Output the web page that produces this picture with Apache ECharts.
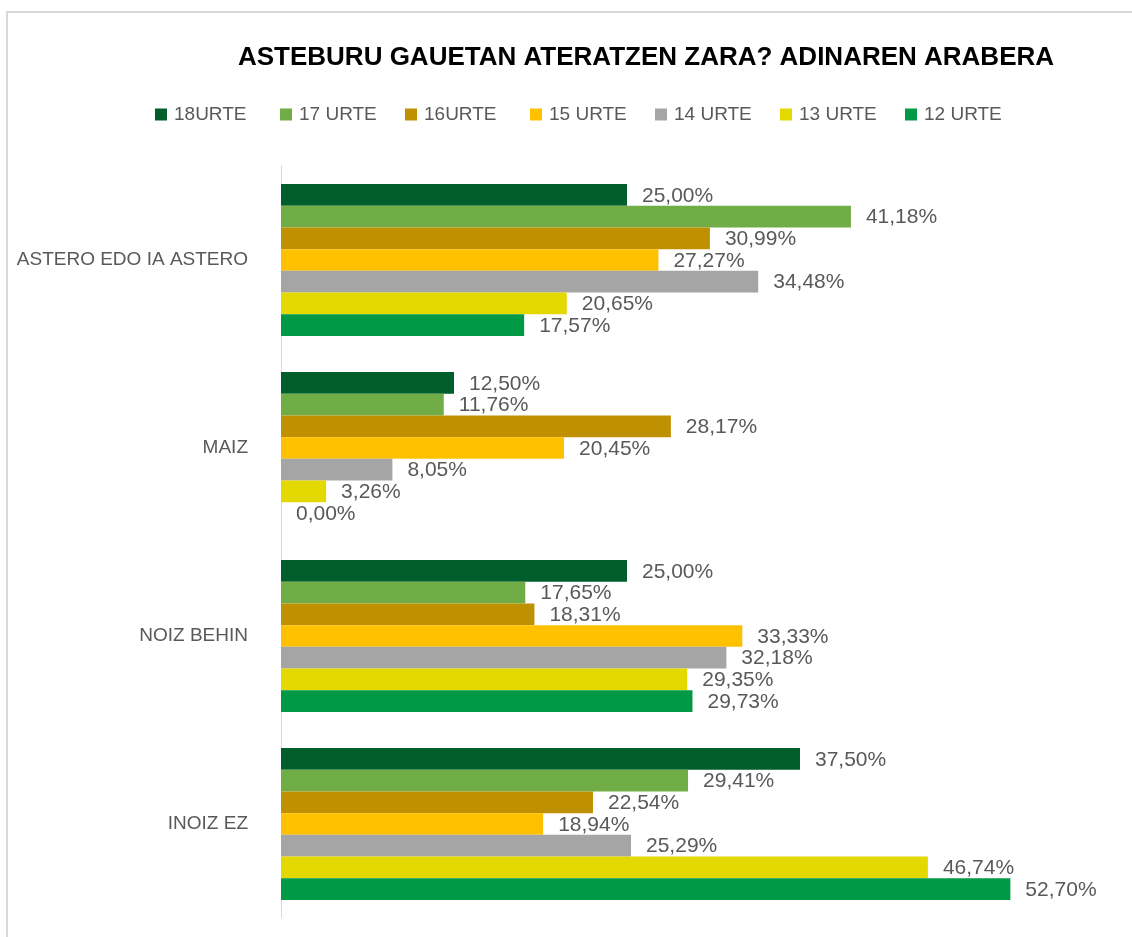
<!DOCTYPE html>
<html>
<head>
<meta charset="utf-8">
<script src="https://cdn.jsdelivr.net/npm/echarts@6/dist/echarts.min.js"></script>
<style>
html,body{margin:0;padding:0;background:#fff;}
#chart{width:1132px;height:937px;}
</style>
</head>
<body>
<div id="chart"></div>
<script>
const titleText = 'ASTEBURU GAUETAN ATERATZEN ZARA? ADINAREN ARABERA';
const categories = ['ASTERO EDO IA ASTERO', 'MAIZ', 'NOIZ BEHIN', 'INOIZ EZ'];
const seriesNames = ['18URTE', '17 URTE', '16URTE', '15 URTE', '14 URTE', '13 URTE', '12 URTE'];
const urte18 = [25.00, 12.50, 25.00, 37.50];
const urte17 = [41.18, 11.76, 17.65, 29.41];
const urte16 = [30.99, 28.17, 18.31, 22.54];
const urte15 = [27.27, 20.45, 33.33, 18.94];
const urte14 = [34.48, 8.05, 32.18, 25.29];
const urte13 = [20.65, 3.26, 29.35, 46.74];
const urte12 = [17.57, 0.00, 29.73, 52.70];
const seriesValues = [urte18, urte17, urte16, urte15, urte14, urte13, urte12];
const colors = ['#005E2C', '#70AD47', '#BF9000', '#FFC000', '#A5A5A5', '#E3D800', '#009A46'];

const FONT = '"Liberation Sans", Arial, sans-serif';
const chart = echarts.init(document.getElementById('chart'));

const legends = seriesNames.map((n, i) => ({
  data: [n],
  left: 155 + i * 125,
  top: 105,
  padding: 0,
  itemWidth: 12,
  itemHeight: 12,
  itemGap: 0,
  icon: 'rect',
  textStyle: { color: '#595959', fontSize: 19, fontFamily: FONT, padding: [0, 0, 0, 2] }
}));

chart.setOption({
  animation: false,
  color: colors,
  graphic: [{
    type: 'rect',
    shape: { x: 7, y: 12, width: 1140, height: 940 },
    style: { fill: 'none', stroke: '#d9d9d9', lineWidth: 2 },
    silent: true
  }],
  title: {
    text: titleText,
    left: 641,
    textAlign: 'center',
    top: 40,
    textStyle: { color: '#000', fontSize: 26, fontWeight: 'bold', fontFamily: FONT }
  },
  legend: legends,
  grid: { left: 281, top: 166, width: 830.4, height: 752, containLabel: false },
  xAxis: {
    type: 'value', min: 0, max: 60,
    show: false,
    splitLine: { show: false }
  },
  yAxis: {
    type: 'category',
    data: categories,
    inverse: true,
    axisLine: { show: true, lineStyle: { color: '#d9d9d9', width: 1 } },
    axisTick: { show: false },
    axisLabel: { color: '#595959', fontSize: 19, fontFamily: FONT, margin: 33 }
  },
  series: seriesNames.map((n, i) => ({
    name: n,
    type: 'bar',
    data: seriesValues[i],
    barWidth: 21.7,
    barGap: '0%',
    itemStyle: { color: colors[i] },
    label: {
      show: true,
      position: 'right',
      distance: 15,
      color: '#595959',
      fontSize: 21,
      fontFamily: FONT,
      offset: [0, 1],
      formatter: p => p.value.toFixed(2).replace('.', ',') + '%'
    }
  }))
});
</script>
</body>
</html>
